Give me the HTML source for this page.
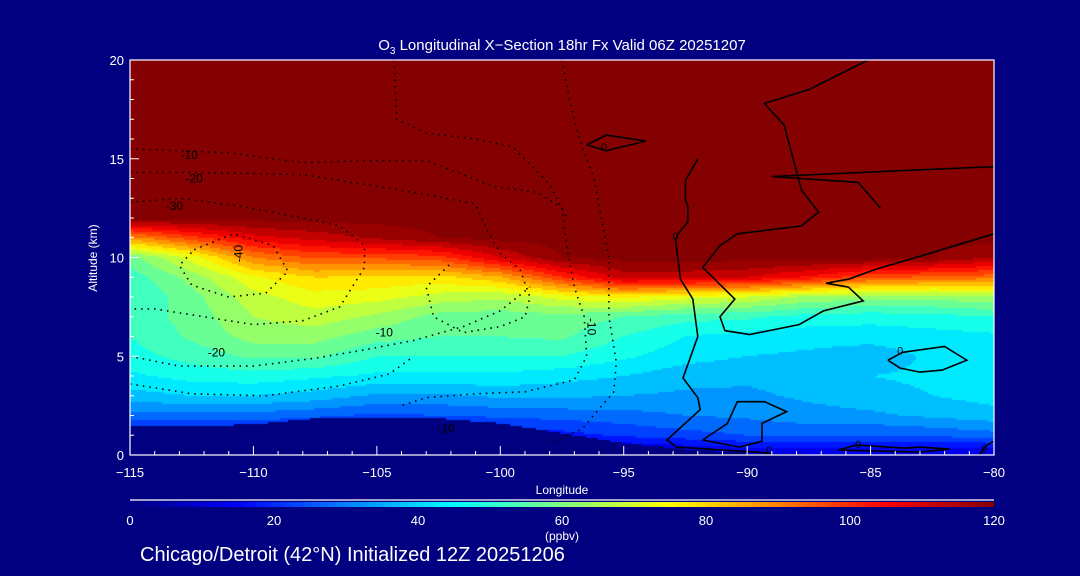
<!DOCTYPE html>
<html><head><meta charset="utf-8">
<style>
html,body{margin:0;padding:0;background:#000080;}
#wrap{position:relative;width:1080px;height:576px;background:#000080;overflow:hidden;font-family:"Liberation Sans",sans-serif;color:#fff;}
canvas{position:absolute;left:130px;top:60px;}
svg{position:absolute;left:0;top:0;}
</style></head><body>
<div id="wrap">
<canvas id="cv" width="864" height="395"></canvas>
<svg id="sv" width="1080" height="576"></svg>
</div>
<script>
// ---- data ----
const lons = [-115,-112.5,-110,-107.5,-105,-102.5,-100,-97.5,-95,-92.5,-90,-87.5,-85,-82.5,-80];
const levels = [0,0.5,1,2,3,4,5,6,7,8,9,10,11,12,13,20];
const terrainKm = [1.5,1.45,1.55,1.85,1.9,1.85,1.6,1.1,0.6,0.3,0.1,0,0,0,0];
const o3_z0   = [5,5,5,5,5,5,5,5,6,8,9,10,10,10,10];
const o3_z05  = [8,8,8,8,8,8,8,10,13,15,17,17,17,17,18];
const o3_z1   = [15,15,15,15,15,15,16,18,21,23,25,26,25,26,28];
const o3_z2   = [28,28,28,26,24,25,26,27,28,30,31,33,34,36,38];
const o3_z3   = [38,40,40,38,34,34,36,36,35,34,34,36,38,40,42];
const o3_z4   = [44,47,48,46,44,44,44,42,40,37,36,37,40,41,42];
const o3_z5   = [48,52,56,56,50,50,50,50,46,42,40,39,37,41,42];
const o3_z6   = [50,56,62,62,57,55,55,56,50,45,43,42,42,43,44];
const o3_z7   = [52,57,65,68,64,58,57,58,55,52,51,48,47,48,50];
const o3_z8   = [50,58,68,73,72,68,66,72,76,72,70,64,62,62,64];
const o3_z9   = [52,62,74,80,79,78,84,100,112,112,110,104,96,94,92];
const o3_z10  = [58,72,90,96,96,98,110,120,122,122,122,122,122,120,115];
const o3_z11  = [88,98,108,112,116,120,122,122,122,122,122,122,122,122,122];
const o3_z12  = [122,122,122,122,122,122,122,122,122,122,122,122,122,122,122];
const o3_z13  = [122,122,122,122,122,122,122,122,122,122,122,122,122,122,122];
const o3_z20  = [122,122,122,122,122,122,122,122,122,122,122,122,122,122,122];
const ozone = [o3_z0,o3_z05,o3_z1,o3_z2,o3_z3,o3_z4,o3_z5,o3_z6,o3_z7,o3_z8,o3_z9,o3_z10,o3_z11,o3_z12,o3_z13,o3_z20];
const xTicks = [-115,-110,-105,-100,-95,-90,-85,-80];
const yTicks = [0,5,10,15,20];
const cbTicks = [0,20,40,60,80,100,120];
// contours (lon, km)
const solidMain = [[-92,15],[-92.5,13.9],[-92.5,12.9],[-92.4,12.6],[-92.4,11.8],[-92.8,11.2],[-92.9,10.9],[-92.7,8.9],[-92.2,7.9],[-92,6],[-92.6,3.9],[-92,2.9],[-91.9,2.3],[-93.25,0.76],[-92.85,0.4],[-89.1,0.1]];
const solidNE = [[-85.1,20],[-87.5,18.5],[-89.3,17.8],[-88.5,16.7],[-87.8,13.4],[-87.1,12.3],[-87.8,11.6],[-90.4,11.2],[-91.1,10.6],[-91.8,9.5],[-90.5,7.9],[-91.1,7],[-90.9,6.3],[-89.9,6.1],[-87.9,6.6],[-86.9,7.3],[-85.3,7.8],[-85.9,8.5],[-86.8,8.7],[-85.9,8.9],[-84.8,9.4],[-82.9,10.1],[-80,11.2]];
const solidNE2 = [[-80,14.6],[-83.7,14.4],[-89,14.1],[-85.5,13.8],[-84.6,12.5]];
const solidLoop1 = [[-96.5,15.7],[-95.7,16.2],[-94.1,15.9],[-95.7,15.4],[-96.5,15.7]];
const solidLoop2 = [[-84.3,4.8],[-83.7,5.2],[-82,5.5],[-81.1,4.8],[-82.1,4.3],[-83,4.2],[-83.8,4.4],[-84.3,4.8]];
const solidLoop3 = [[-91.8,0.76],[-90.8,1.6],[-90.4,2.7],[-89.3,2.7],[-88.4,2.2],[-89.4,1.6],[-89.4,0.7],[-90.3,0.4],[-91.8,0.76]];
const solidLoop4 = [[-86.3,0.25],[-85.6,0.5],[-83.6,0.35],[-83,0.4],[-81.8,0.3],[-83,0.15],[-86.3,0.25]];
const solidLoop5 = [[-80.6,0],[-80.3,0.5],[-80,0.7]];
const dotLines = [
 [[-115,15.5],[-111,15.3],[-108,14.8],[-105.5,14.9],[-103,14.9],[-101.5,14.2],[-100.3,13.6],[-98.5,13.3],[-97.5,12.5],[-97.3,10.5],[-97,8.5],[-96.6,7],[-96.5,5],[-97,3.8],[-99,3.2],[-101,3.1],[-103,2.9],[-104,2.5]],
 [[-115,14.3],[-112,14.3],[-108,14.2],[-105,13.6],[-103,13.2],[-101,12.7],[-100.5,11.3],[-100,10.2],[-99.2,9.4],[-98.8,8],[-99,7],[-100,6.5],[-101.5,6.2],[-102.7,7],[-103,8.5],[-102,9.7]],
 [[-115,12.8],[-113,13],[-110.5,12.6],[-108,12],[-106.5,11.6],[-105.5,10.6],[-105.5,9.5],[-106.5,7.5],[-108,6.8],[-110,6.6],[-112,7],[-114,7.4],[-115,7.4]],
 [[-112.4,10.4],[-110.8,11.2],[-109.2,10.6],[-108.6,9.3],[-109.5,8.2],[-111,8],[-112.5,8.6],[-113,9.6],[-112.4,10.4]],
 [[-115,5],[-113,4.5],[-110,4.5],[-107.5,4.9],[-105.6,5.3],[-103.5,5.8],[-101.5,6.5],[-100,7.3],[-98.8,8.5]],
 [[-115,3.6],[-112.5,3.1],[-109.5,3],[-106.5,3.5],[-104.5,4.1],[-103.5,5]],
 [[-104.3,20],[-104.2,17],[-103,16.3],[-101,16],[-99.5,15.6],[-98,13.7],[-97.3,12]],
 [[-97.5,20],[-97.2,18],[-96.8,16],[-96.2,14],[-95.9,12],[-95.6,10],[-95.6,7],[-95.3,4.7],[-95.4,3.2],[-96.7,1.3],[-98,0.6]]
];
const dotLabels = [["-10",-112.6,15.2,0],["-20",-112.4,14],["-30",-113.2,12.6],["-40",-110.6,10.2,-90],["-20",-111.5,5.2],["-10",-104.7,6.2],["-10",-96.3,6.5,90],["-10",-102.2,1.35]];
const zeroLabels = [[-92.9,11.1],[-95.8,15.6],[-83.8,5.3],[-89.1,0.25],[-85.5,0.55],[-80.4,0.3]];

// ---- scales ----
const X0=130,X1=994,Y0=455,Y1=60;
const xs = l => X0 + (l-(-115))/35*(X1-X0);
const ys = z => Y0 - z/20*(Y0-Y1);

function jet(v){
  v=Math.max(0,Math.min(120,v))/120;
  const st=[[0,0,0,0.5],[0.125,0,0,1],[0.375,0,1,1],[0.625,1,1,0],[0.875,1,0,0],[1,0.52,0,0]];
  for(let i=1;i<st.length;i++){ if(v<=st[i][0]){ const a=st[i-1],b=st[i],t=(v-a[0])/(b[0]-a[0]);
    return [0,1,2].map(k=>Math.round(255*(a[k+1]+(b[k+1]-a[k+1])*t))); } }
  return [133,0,0];
}
function interp1(arr,xv,x){ if(x<=arr[0])return [0,0]; for(let i=1;i<arr.length;i++){ if(x<=arr[i]) return [i-1,(x-arr[i-1])/(arr[i]-arr[i-1])]; } return [arr.length-2,1]; }
function field(l,z){
  const [i,t]=interp1(lons,0,l); const [j,u]=interp1(levels,0,z);
  const a=ozone[j][i],b=ozone[j][i+1],c=ozone[j+1][i],d=ozone[j+1][i+1];
  return (a*(1-t)+b*t)*(1-u)+(c*(1-t)+d*t)*u;
}
function terr(l){ const [i,t]=interp1(lons,0,l); return terrainKm[i]*(1-t)+terrainKm[i+1]*t; }

// ---- draw field ----
const ctx=document.getElementById('cv').getContext('2d');
const step=2;
for(let px=0;px<864;px+=step){
  const l=-115+(px+1)/864*35; const tz=terr(l);
  for(let py=0;py<395;py+=step){
    const z=(395-py-1)/395*20;
    let c;
    if(z<tz) c=[0,0,128]; else { let v=field(l,z); v=Math.floor(v/5)*5+2.5; c=jet(v); }
    ctx.fillStyle='rgb('+c.join(',')+')'; ctx.fillRect(px,py,step,step);
  }
}

// ---- svg ----
const sv=document.getElementById('sv'); const NS='http://www.w3.org/2000/svg';
function mk(tag,attrs,parent){ const e=document.createElementNS(NS,tag); for(const k in attrs) e.setAttribute(k,attrs[k]); (parent||sv).appendChild(e); return e; }
function poly(pts,style){ return mk('polyline',Object.assign({points:pts.map(p=>xs(p[0]).toFixed(1)+','+ys(p[1]).toFixed(1)).join(' '),fill:'none',stroke:'#000'},style)); }
for(const d of dotLines){ const e=poly(d,{'stroke-width':1.6,'stroke-dasharray':'1.5 5'});
  
   }
for(const d of [solidMain,solidNE,solidNE2,solidLoop1,solidLoop2,solidLoop3,solidLoop4,solidLoop5]){ const e=poly(d,{'stroke-width':1.6});
  
   }
for(const d of dotLabels){ const x=xs(d[1]),y=ys(d[2]); const t=mk('text',{x:x,y:y+4,'font-size':12,fill:'#000','text-anchor':'middle','font-family':'Liberation Sans,sans-serif',transform:d[3]?`rotate(${d[3]} ${x} ${y})`:''}); t.textContent=d[0];
  
   }
for(const d of zeroLabels){ const t=mk('text',{x:xs(d[0]),y:ys(d[1])+4,'font-size':11,fill:'#000','text-anchor':'middle','font-family':'Liberation Sans,sans-serif'}); t.textContent='0';
  
   }

// frame
const fr=mk('rect',{x:X0,y:Y1,width:X1-X0,height:Y0-Y1,fill:'none',stroke:'#fff','stroke-width':1.2});


// x ticks
for(let l=-115;l<=-80;l++){ const major=(l%5===0); mk('line',{x1:xs(l),x2:xs(l),y1:Y0,y2:Y0-(major?9:4),stroke:'#fff','stroke-width':1}); }
for(const v of xTicks){ const t=mk('text',{x:xs(v),y:477,'font-size':13,fill:'#fff','text-anchor':'middle','font-family':'Liberation Sans,sans-serif'}); t.textContent='\u2212'+Math.abs(v);
  
   }
for(const v of yTicks){ mk('line',{x1:X0,x2:X0+9,y1:ys(v),y2:ys(v),stroke:'#fff'}); const t=mk('text',{x:124,y:ys(v)+5,'font-size':13,fill:'#fff','text-anchor':'end','font-family':'Liberation Sans,sans-serif'}); t.textContent=v;
  
   }
for(let z=1;z<20;z++){ if(z%5) mk('line',{x1:X0,x2:X0+4,y1:ys(z),y2:ys(z),stroke:'#fff'}); }

// colorbar
const defs=mk('defs',{}); const g=mk('linearGradient',{id:'cb',x1:0,x2:1,y1:0,y2:0},defs);
for(let i=0;i<=24;i++){ const c=jet(i*5); mk('stop',{offset:i/24,'stop-color':'rgb('+c.join(',')+')'},g); }
mk('line',{x1:X0,x2:X1,y1:500,y2:500,stroke:'#fff','stroke-width':1.2});
const cb=mk('rect',{x:X0,y:502,width:X1-X0,height:5,fill:'url(#cb)'});


for(const v of cbTicks){ const t=mk('text',{x:X0+v/120*(X1-X0),y:525,'font-size':13,fill:'#fff','text-anchor':'middle','font-family':'Liberation Sans,sans-serif'}); t.textContent=v;
  
   }
</script>
<svg width="1080" height="576" style="position:absolute;left:0;top:0;pointer-events:none">
<text x="562" y="50" font-size="15" fill="#fff" text-anchor="middle" font-family="Liberation Sans,sans-serif">O<tspan font-size="10" dy="4">3</tspan><tspan dy="-4"> Longitudinal X−Section 18hr  Fx Valid 06Z 20251207</tspan></text>
<text x="97" y="258" font-size="12" fill="#fff" text-anchor="middle" font-family="Liberation Sans,sans-serif" transform="rotate(-90 97 258)">Altitude (km)</text>
<text x="562" y="494" font-size="12" fill="#fff" text-anchor="middle" font-family="Liberation Sans,sans-serif">Longitude</text>
<text x="562" y="540" font-size="12" fill="#fff" text-anchor="middle" font-family="Liberation Sans,sans-serif">(ppbv)</text>
<text x="140" y="561" font-size="20" fill="#fff" font-family="Liberation Sans,sans-serif">Chicago/Detroit (42°N) Initialized 12Z 20251206</text>
</svg>
</body></html>
